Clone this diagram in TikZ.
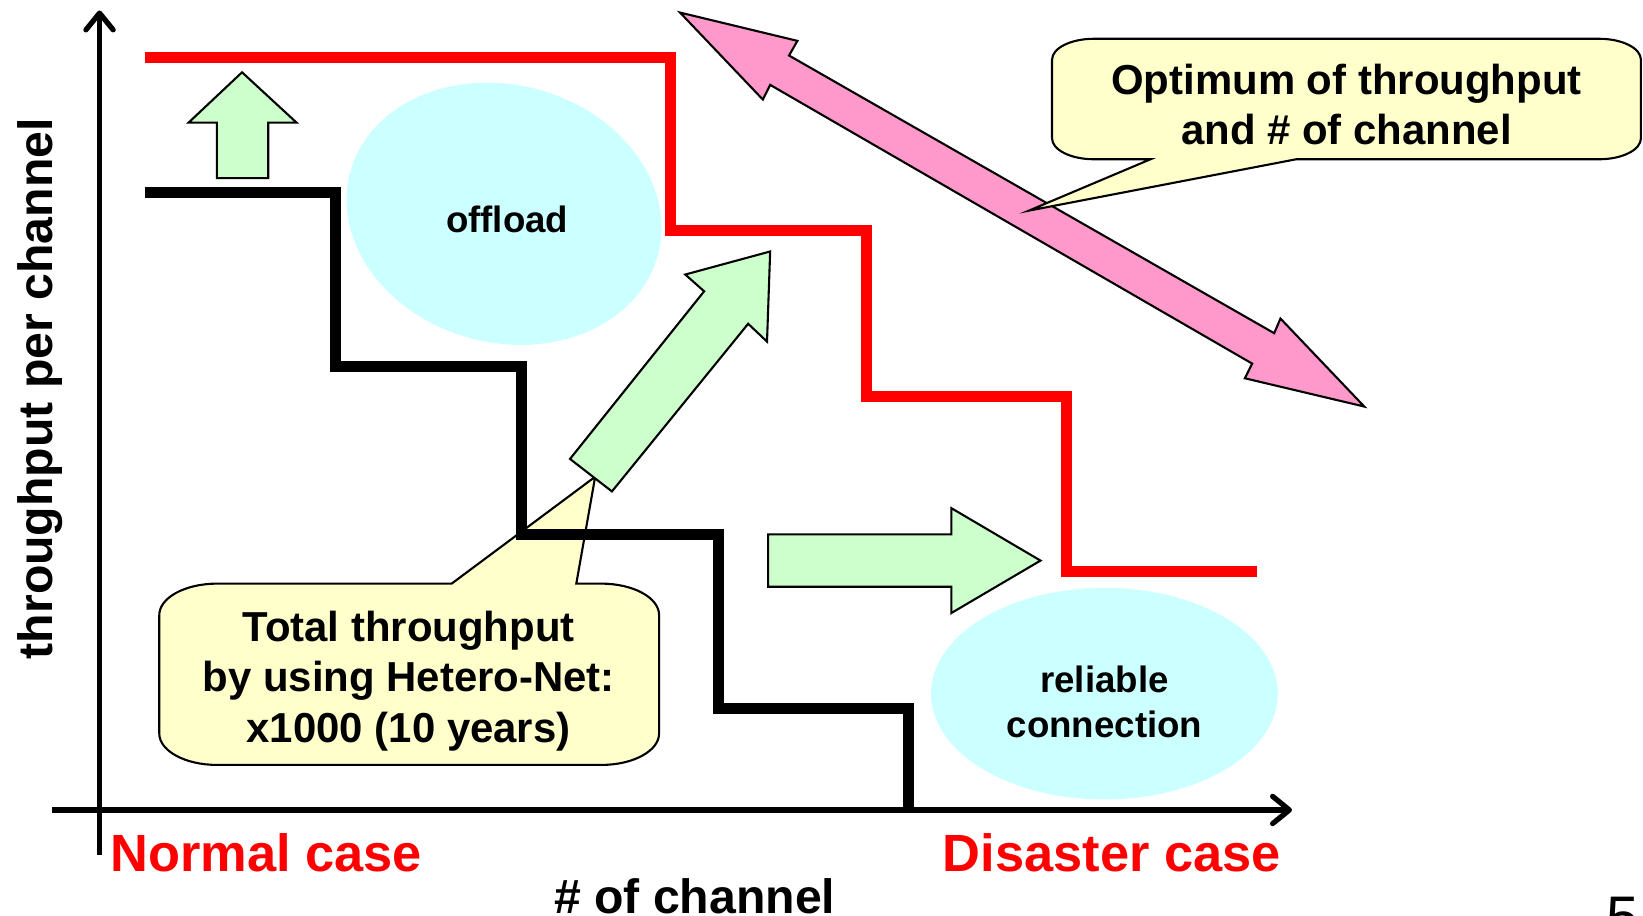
\documentclass[tikz,border=0pt]{standalone}
\usepackage{fontspec}
\setmainfont{Liberation Sans}
\usepackage{tikz}
\usetikzlibrary{arrows.meta,shapes.geometric}

\definecolor{stepred}{RGB}{255,0,0}
\definecolor{skyfill}{RGB}{204,255,255}
\definecolor{notefill}{RGB}{255,255,204}
\definecolor{mintfill}{RGB}{204,255,204}
\definecolor{rosefill}{RGB}{255,153,204}

\begin{document}
\begin{tikzpicture}[x=1pt, y=-1pt,
      axis/.style={line width=5pt, -{Straight Barb[length=16pt,width=26pt,round]}},
      stairs/.style={line width=10.5pt, line join=miter},
      blob/.style={ellipse, fill=skyfill, inner sep=0pt},
      note/.style={fill=notefill, draw=black, line width=2pt},
      fat/.style={draw=black, line width=2pt, line join=miter},
      notetext/.style={inner sep=0pt, align=center, font=\fontsize{40}{48}\selectfont\bfseries},
      blobtext/.style={inner sep=0pt, align=center, font=\fontsize{35}{43}\selectfont\bfseries},
      casetext/.style={inner sep=0pt, text=stepred, font=\fontsize{50}{60}\selectfont\bfseries},
      axistext/.style={inner sep=0pt, font=\fontsize{46}{55}\selectfont\bfseries}]
    \useasboundingbox (0,0) rectangle (1568,874);

    % shaded areas
    \node[blob, minimum width=304pt, minimum height=246pt, rotate=-15] (offloadarea) at (481,204) {};
    \node[blob, minimum width=331pt, minimum height=202pt] (reliablearea) at (1054,662) {};

    % callout under the staircases
    \coordinate (totaltip) at (568,455);
    \draw[note] (207,557) -- (431,557) -- (totaltip) -- (550,557) -- (574,557)
      arc[start angle=270, end angle=360, x radius=55, y radius=30] -- (629,700)
      arc[start angle=0, end angle=90, x radius=55, y radius=30] -- (207,730)
      arc[start angle=90, end angle=180, x radius=55, y radius=30] -- (152,587)
      arc[start angle=180, end angle=270, x radius=55, y radius=30] -- cycle;

    % throughput per channel: today (black) and with Hetero-Net (red)
    \draw[stairs] (138,184) -- (320,184) -- (320,350) -- (498,350) -- (498,510)
      -- (686,510) -- (686,676) -- (867,676) -- (867,773);
    \draw[stairs, stepred] (138,55) -- (640,55) -- (640,220) -- (827,220)
      -- (827,378) -- (1018,378) -- (1018,545) -- (1200,545);

    % block arrows
    \draw[fat, fill=mintfill] (207,170) -- (207,117) -- (180,117) -- (231,69)
      -- (283,117) -- (256,117) -- (256,170) -- cycle;
    \draw[fat, fill=mintfill] (544,438) -- (672,278) -- (654,262) -- (735,240)
      -- (732,326) -- (714,309) -- (584,469) -- cycle;
    \draw[fat, fill=mintfill] (733,510) -- (908,510) -- (908,485) -- (993,535)
      -- (908,585) -- (908,560) -- (733,560) -- cycle;
    \draw[fat, fill=rosefill] (649,12) -- (761,39) -- (753,53) -- (1216,318)
      -- (1222,304) -- (1302,388) -- (1188,361) -- (1195,347) -- (735,81)
      -- (728,95) -- cycle;

    % callout on the double arrow
    \coordinate (opttip) at (982,201);
    \draw[note] (1044,37) -- (1526,37)
      arc[start angle=270, end angle=360, x radius=40, y radius=20] -- (1566,132)
      arc[start angle=0, end angle=90, x radius=40, y radius=20] -- (1237,152)
      -- (opttip) -- (1098,152) -- (1044,152)
      arc[start angle=90, end angle=180, x radius=40, y radius=20] -- (1004,57)
      arc[start angle=180, end angle=270, x radius=40, y radius=20] -- cycle;

    % axes
    \draw[axis] (95,816) -- (95,10);
    \draw[axis] (50,773) -- (1233,773);

    % texts
    \node[blobtext, anchor=base] (offload) at (484,222) {offload};
    \node[blobtext, anchor=north] (reliable) at (1054,635) {reliable\\connection};
    \node[notetext, anchor=north] (optimum) at (1285,61) {Optimum of throughput\\and \# of channel};
    \node[notetext, anchor=north] (total) at (390,583) {Total throughput\\by using Hetero-Net:\\x1000 (10 years)};
    \node[casetext, anchor=base] (normal) at (254,832) {Normal case};
    \node[casetext, anchor=base] (disaster) at (1061,832) {Disaster case};
    \node[axistext, anchor=base] (xlabel) at (663,872) {\# of channel};
    \node[axistext, anchor=base, rotate=90] (ylabel) at (50,371) {throughput per channel};
    \node[inner sep=0pt, anchor=base, font=\fontsize{56}{60}\selectfont] (pageno) at (1549,895) {5};
  \end{tikzpicture}
\end{document}
